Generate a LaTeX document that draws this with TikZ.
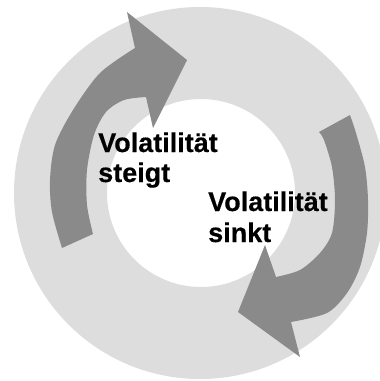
\documentclass[tikz,border=0pt]{standalone}
\usepackage{fontspec}
\setmainfont{Liberation Sans}
\newfontfamily\lblfont{Liberation Sans Bold}[FakeBold=0.4]
\definecolor{ringgray}{RGB}{221,221,221}
\definecolor{arrowgray}{RGB}{138,138,138}
\begin{document}
\begin{tikzpicture}[x=1pt,y=-1pt,
  lbl/.style={anchor=base west,inner sep=0pt,font=\lblfont\fontsize{27}{31}\selectfont,text=black}]
\useasboundingbox (0,0) rectangle (380,381);
\clip (0,0) rectangle (380,381);
\fill[white] (0,0) rectangle (380,381);
% ring
\fill[ringgray,even odd rule] (200,193) circle[radius=186] (201,193) circle[radius=94];
% left arrow (rising)
\fill[arrowgray] plot[smooth] coordinates {(62,248) (52,212) (50,180) (55,145) (73,110) (100,73) (135,48)}
  -- (127,12) -- (187,60) -- (153,128) -- (146,97)
  -- plot[smooth] coordinates {(146,97) (124,100) (106,112) (94,135) (87,170) (87,205) (93,234)} -- cycle;
% right arrow (falling)
\fill[arrowgray] plot[smooth] coordinates {(350,115) (356,133) (365,167) (368,200) (367,233) (360,267) (347,293) (327,313) (291,322)}
  -- (300,357) -- (238,312) -- (265,245) -- (276,277)
  -- plot[smooth] coordinates {(276,277) (300,270) (320,253) (332,233) (335,200) (332,167) (324,140) (319,132)} -- cycle;
% labels
\node[lbl] (s1) at (98,152) {Volatilität};
\node[lbl] (s2) at (98,182) {steigt};
\node[lbl] (k1) at (208,211) {Volatilität};
\node[lbl] (k2) at (208,242) {sinkt};
\end{tikzpicture}
\end{document}
